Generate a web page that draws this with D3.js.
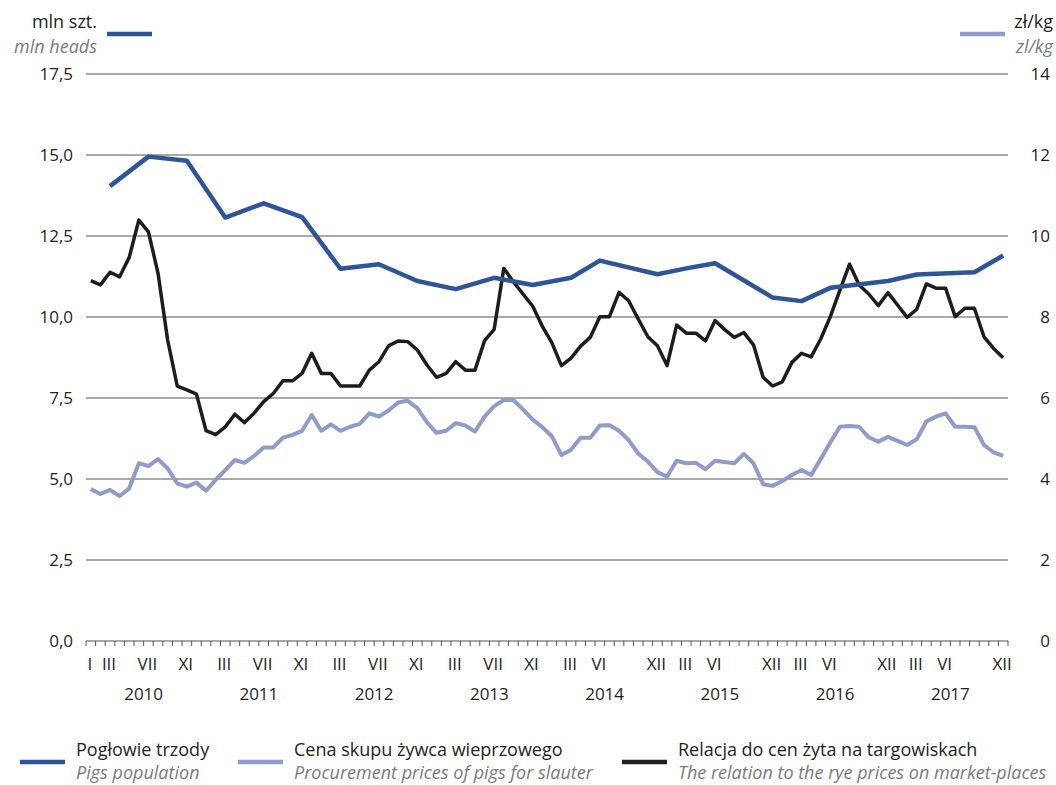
<!DOCTYPE html>
<html>
<head>
<meta charset="utf-8">
<script src="https://cdn.jsdelivr.net/npm/d3@7"></script>
<style>
  body { margin: 0; background: #fff; }
  text { font-family: "Open Sans", "Noto Sans", sans-serif; }
</style>
</head>
<body>
<div id="main"></div>
<script>
// ---- data ----
const years = [2010, 2011, 2012, 2013, 2014, 2015, 2016, 2017];

// monthly: procurement price of live pigs (zł/kg, right axis)
const pigPrice = [
    3.75, 3.63, 3.73, 3.58, 3.77, 4.39, 4.32, 4.49, 4.26, 3.89, 3.81, 3.91,
    3.71, 3.98, 4.22, 4.47, 4.40, 4.57, 4.78, 4.78, 5.02, 5.09, 5.19, 5.58,
    5.19, 5.35, 5.19, 5.29, 5.36, 5.62, 5.54, 5.69, 5.89, 5.93, 5.75, 5.40,
    5.14, 5.19, 5.38, 5.32, 5.17, 5.54, 5.80, 5.95, 5.95, 5.72, 5.47, 5.28,
    5.06, 4.59, 4.72, 5.02, 5.02, 5.32, 5.33, 5.19, 4.96, 4.63, 4.43, 4.17,
    4.06, 4.45, 4.39, 4.40, 4.24, 4.45, 4.42, 4.39, 4.62, 4.39, 3.87, 3.83,
    3.95, 4.10, 4.22, 4.10, 4.49, 4.90, 5.29, 5.31, 5.29, 5.03, 4.92, 5.04,
    4.94, 4.84, 4.98, 5.42, 5.54, 5.62, 5.29, 5.29, 5.28, 4.84, 4.66, 4.57
];

// monthly: relation of pig price to rye price (left axis)
const ryeRelation = [
    11.12, 10.99, 11.38, 11.24, 11.84, 12.99, 12.63, 11.35, 9.29, 7.87, 7.75, 7.62,
    6.49, 6.37, 6.61, 7.00, 6.74, 7.03, 7.39, 7.64, 8.03, 8.03, 8.26, 8.88,
    8.26, 8.26, 7.87, 7.87, 7.87, 8.36, 8.62, 9.11, 9.26, 9.24, 8.98, 8.52,
    8.14, 8.26, 8.62, 8.36, 8.36, 9.27, 9.62, 11.50, 11.09, 10.71, 10.34, 9.72,
    9.21, 8.50, 8.73, 9.10, 9.37, 10.01, 10.01, 10.76, 10.50, 9.94, 9.39, 9.11,
    8.50, 9.75, 9.50, 9.50, 9.26, 9.89, 9.61, 9.37, 9.52, 9.14, 8.14, 7.87,
    8.00, 8.60, 8.88, 8.77, 9.32, 10.01, 10.83, 11.63, 10.99, 10.71, 10.35, 10.75,
    10.37, 9.99, 10.24, 11.02, 10.89, 10.89, 10.01, 10.27, 10.27, 9.39, 9.03, 8.74
];

// pigs population surveys (mln heads, left axis)
const popMonths = ["2010-03", "2010-07", "2010-11", "2011-03", "2011-07", "2011-11",
    "2012-03", "2012-07", "2012-11", "2013-03", "2013-07", "2013-11",
    "2014-03", "2014-06", "2014-12", "2015-03", "2015-06", "2015-12",
    "2016-03", "2016-06", "2016-12", "2017-03", "2017-09", "2017-12"];
const popValues = [14.04, 14.95, 14.82, 13.07, 13.51, 13.08,
    11.49, 11.63, 11.11, 10.86, 11.21, 10.99,
    11.21, 11.74, 11.32, 11.50, 11.66, 10.60,
    10.49, 10.90, 11.11, 11.31, 11.38, 11.90];

const monthLabels = [
    ["2010-01", "I"], ["2010-03", "III"], ["2010-07", "VII"], ["2010-11", "XI"],
    ["2011-03", "III"], ["2011-07", "VII"], ["2011-11", "XI"],
    ["2012-03", "III"], ["2012-07", "VII"], ["2012-11", "XI"],
    ["2013-03", "III"], ["2013-07", "VII"], ["2013-11", "XI"],
    ["2014-03", "III"], ["2014-06", "VI"], ["2014-12", "XII"],
    ["2015-03", "III"], ["2015-06", "VI"], ["2015-12", "XII"],
    ["2016-03", "III"], ["2016-06", "VI"], ["2016-12", "XII"],
    ["2017-03", "III"], ["2017-06", "VI"], ["2017-12", "XII"]
];

const leftTicks = [0, 2.5, 5, 7.5, 10, 12.5, 15, 17.5];
const rightTicks = [0, 2, 4, 6, 8, 10, 12, 14];

const ctx = {
    width: 1056,
    height: 785,
    left: 86,
    right: 1008,
    top: 74,
    bottom: 641,
    blue: "#2f5597",
    lightBlue: "#8f9cc8",
    black: "#1d1d1b",
    grid: "#555555",
    text: "#231f20",
    subText: "#7a7a7a"
};

const months = [];
years.forEach(y => { for (let m = 1; m <= 12; m++) months.push(y + "-" + String(m).padStart(2, "0")); });

// ---- chart ----
const svg = d3.select("#main").append("svg")
    .attr("width", ctx.width)
    .attr("height", ctx.height);

const x = d3.scaleBand().domain(months).range([ctx.left, ctx.right]);
const xc = d => x(d) + x.bandwidth() / 2;
const yL = d3.scaleLinear().domain([0, 17.5]).range([ctx.bottom, ctx.top]);
const yR = d3.scaleLinear().domain([0, 14]).range([ctx.bottom, ctx.top]);

// grid
svg.append("g").selectAll("line")
    .data(leftTicks.filter(d => d > 0))
    .enter().append("line")
    .attr("x1", ctx.left).attr("x2", ctx.right)
    .attr("y1", d => yL(d)).attr("y2", d => yL(d))
    .attr("stroke", ctx.grid)
    .attr("stroke-width", 1);

// left labels
svg.append("g").selectAll("text")
    .data(leftTicks)
    .enter().append("text")
    .attr("x", 73)
    .attr("y", d => yL(d) + 6)
    .attr("text-anchor", "end")
    .attr("font-size", 17)
    .attr("fill", ctx.text)
    .text(d => d3.format(".1f")(d).replace(".", ","));

// right labels
svg.append("g").selectAll("text")
    .data(rightTicks)
    .enter().append("text")
    .attr("x", 1050)
    .attr("y", d => yR(d) + 6)
    .attr("text-anchor", "end")
    .attr("font-size", 17)
    .attr("fill", ctx.text)
    .text(d => d);

// x axis
const axisG = svg.append("g");
axisG.append("line")
    .attr("x1", ctx.left).attr("x2", ctx.right)
    .attr("y1", ctx.bottom).attr("y2", ctx.bottom)
    .attr("stroke", "#8a8a8a").attr("stroke-width", 1.5);
axisG.selectAll(".tick")
    .data(months.concat(["end"]))
    .enter().append("line")
    .attr("x1", d => d === "end" ? ctx.right : x(d))
    .attr("x2", d => d === "end" ? ctx.right : x(d))
    .attr("y1", ctx.bottom).attr("y2", ctx.bottom + 5)
    .attr("stroke", "#555").attr("stroke-width", 1);
axisG.selectAll(".mlabel")
    .data(monthLabels)
    .enter().append("text")
    .attr("x", d => xc(d[0]) - 1)
    .attr("y", 670)
    .attr("text-anchor", "middle")
    .attr("font-size", 17)
    .attr("fill", ctx.text)
    .text(d => d[1]);
axisG.selectAll(".ylabel")
    .data(years)
    .enter().append("text")
    .attr("x", d => x(d + "-07"))
    .attr("y", 700)
    .attr("text-anchor", "middle")
    .attr("font-size", 17)
    .attr("fill", ctx.text)
    .text(d => d);

// lines
svg.append("path")
    .datum(pigPrice)
    .attr("fill", "none")
    .attr("stroke", ctx.lightBlue)
    .attr("stroke-width", 4)
    .attr("stroke-linejoin", "round")
    .attr("d", d3.line().x((d, i) => xc(months[i])).y(d => yR(d)));

svg.append("path")
    .datum(ryeRelation)
    .attr("fill", "none")
    .attr("stroke", ctx.black)
    .attr("stroke-width", 3.5)
    .attr("stroke-linejoin", "round")
    .attr("d", d3.line().x((d, i) => xc(months[i])).y(d => yL(d)));

svg.append("path")
    .datum(popValues)
    .attr("fill", "none")
    .attr("stroke", ctx.blue)
    .attr("stroke-width", 4.5)
    .attr("stroke-linejoin", "round")
    .attr("d", d3.line().x((d, i) => xc(popMonths[i])).y(d => yL(d)));

// axis unit captions
function caption(xPos, anchor, main, sub, swatchX, color){
    svg.append("text").attr("x", xPos).attr("y", 28).attr("text-anchor", anchor)
        .attr("font-size", 18).attr("fill", ctx.text).text(main);
    svg.append("text").attr("x", xPos).attr("y", 53).attr("text-anchor", anchor)
        .attr("font-size", 18).attr("font-style", "italic").attr("fill", ctx.subText).text(sub);
    svg.append("line").attr("x1", swatchX).attr("x2", swatchX + 45)
        .attr("y1", 34).attr("y2", 34)
        .attr("stroke", color).attr("stroke-width", 4.5);
}
caption(97, "end", "mln szt.", "mln heads", 107, ctx.blue);
caption(1053, "end", "zł/kg", "zl/kg", 960, ctx.lightBlue);

// legend
const legend = [
    { x: 20, color: ctx.blue, pl: "Pogłowie trzody", en: "Pigs population" },
    { x: 238, color: ctx.lightBlue, pl: "Cena skupu żywca wieprzowego", en: "Procurement prices of pigs for slauter" },
    { x: 622, color: ctx.black, pl: "Relacja do cen żyta na targowiskach", en: "The relation to the rye prices on market-places" }
];
const lg = svg.append("g").selectAll("g").data(legend).enter().append("g");
lg.append("line")
    .attr("x1", d => d.x).attr("x2", d => d.x + 45)
    .attr("y1", 762).attr("y2", 762)
    .attr("stroke", d => d.color).attr("stroke-width", 4.5);
lg.append("text")
    .attr("x", d => d.x + 56).attr("y", 756)
    .attr("font-size", 18).attr("fill", ctx.text)
    .text(d => d.pl);
lg.append("text")
    .attr("x", d => d.x + 56).attr("y", 779)
    .attr("font-size", 18).attr("font-style", "italic").attr("fill", ctx.subText)
    .text(d => d.en);
</script>
</body>
</html>
